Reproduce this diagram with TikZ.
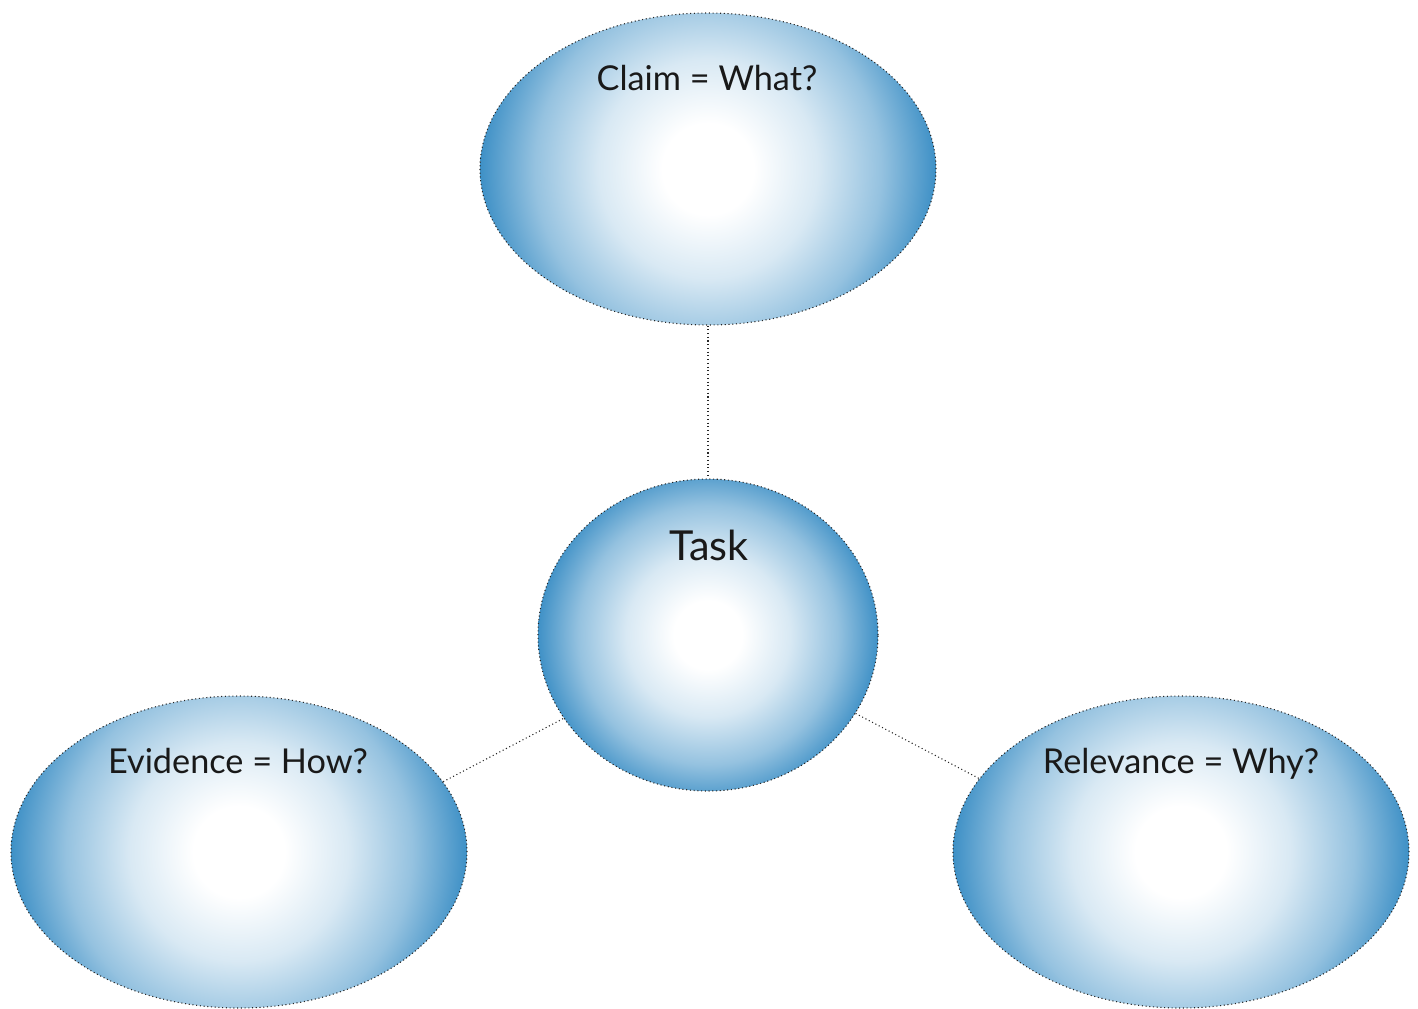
\documentclass[tikz,border=0pt]{standalone}
\usepackage{fontspec}
\setmainfont{Lato}
\usetikzlibrary{shapes.geometric}

\definecolor{bubbleblue}{RGB}{62,144,198}
\pgfdeclareradialshading{bubbleshade}{\pgfpoint{0bp}{0bp}}{%
  color(0bp)=(white); color(5bp)=(white); color(12bp)=(bubbleblue!20); color(19bp)=(bubbleblue!55); color(25bp)=(bubbleblue); color(50bp)=(bubbleblue)}

\tikzset{every picture/.style={line width=0.75pt}}
\tikzset{
  bubble/.style={ellipse, draw=black!85, line width=0.8pt, dotted,
    minimum width=342pt, minimum height=234pt, inner sep=0pt,
    path picture={\shade[shading=bubbleshade] (path picture bounding box.center) circle [radius=#1];}},
  bubble/.default=171pt,
  bubbletext/.style={anchor=base, inner sep=0.75pt, font=\fontsize{25.7}{30}\selectfont, text=black!90},
  link/.style={draw=black!85, line width=0.8pt, dotted}
}

\begin{document}
\begin{tikzpicture}[x=0.75pt,y=0.75pt,yscale=-1,xscale=1]
\useasboundingbox (0,0) rectangle (1418,1008);

%Shape: Ellipse [claim]
\node [bubble] (claim) at (708,169) {};
%Shape: Ellipse [task]
\node [bubble=128pt, minimum width=255pt] (task) at (708,635) {};
%Shape: Ellipse [evidence]
\node [bubble] (evidence) at (239,852) {};
%Shape: Ellipse [relevance]
\node [bubble] (relevance) at (1181,852) {};

%Straight Lines
\draw [link] (claim.south) -- (task.north);
\draw [link] (evidence.19) -- (task.210);
\draw [link] (task.332) -- (relevance.160);

% Text Node
\node [bubbletext] (claimtext) at (707,90) {Claim = What?};
% Text Node
\node [bubbletext, font=\fontsize{31}{36}\selectfont] (tasktext) at (709,560) {Task};
% Text Node
\node [bubbletext] (evidencetext) at (238,773) {Evidence = How?};
% Text Node
\node [bubbletext] (relevancetext) at (1181,773) {Relevance = Why?};

\end{tikzpicture}
\end{document}
